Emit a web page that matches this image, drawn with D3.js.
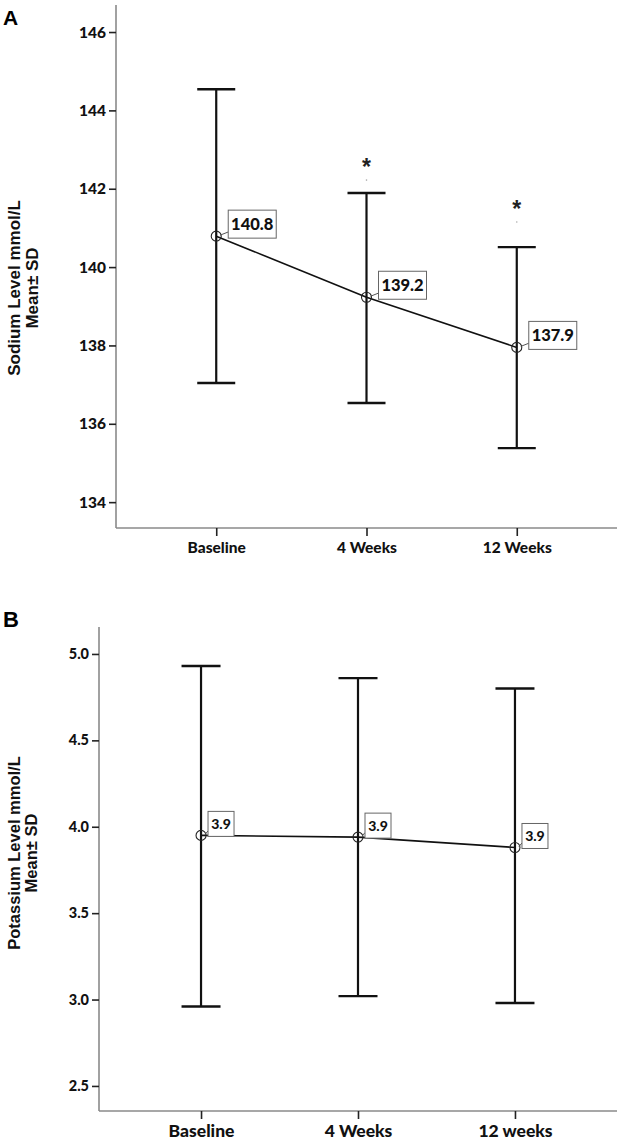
<!DOCTYPE html>
<html>
<head>
<meta charset="utf-8">
<script src="https://cdn.jsdelivr.net/npm/d3@7"></script>
<style>
  html, body { margin: 0; padding: 0; background: #fff; }
  svg { display: block; }
</style>
</head>
<body>
<svg id="chart" width="630" height="1143"></svg>
<script>
// ---------- Panel A: Sodium ----------
const sodiumCategories = ["Baseline", "4 Weeks", "12 Weeks"];
const sodiumMean = [140.79, 139.23, 137.95];
const sodiumUpper = [144.54, 141.89, 140.51];
const sodiumLower = [137.04, 136.53, 135.38];
const sodiumLabels = ["140.8", "139.2", "137.9"];
const sodiumSigDot = [null, 142.22, 141.15];
const sodiumTicks = [134, 136, 138, 140, 142, 144, 146];
const sodiumDomain = [133.34, 146.69];

// ---------- Panel B: Potassium ----------
const potassiumCategories = ["Baseline", "4 Weeks", "12 weeks"];
const potassiumMean = [3.95, 3.94, 3.88];
const potassiumUpper = [4.93, 4.86, 4.80];
const potassiumLower = [2.96, 3.02, 2.98];
const potassiumLabels = ["3.9", "3.9", "3.9"];
const potassiumTicks = [2.5, 3.0, 3.5, 4.0, 4.5, 5.0];
const potassiumDomain = [2.355, 5.156];

const svg = d3.select("#chart");

function panel(cfg) {
  const g = svg.append("g");
  const x = d3.scalePoint().domain(cfg.categories).range([cfg.left, cfg.right]).padding(cfg.padding);
  const y = d3.scaleLinear().domain(cfg.domain).range([cfg.bottom, cfg.top]);

  // panel letter
  g.append("text").attr("x", 3).attr("y", cfg.letterY)
    .attr("font-family", "Liberation Sans, Arial, sans-serif").attr("font-weight", "bold")
    .attr("font-size", cfg.letterSize).attr("fill", "#000").text(cfg.letter);

  // y axis
  const yAxis = g.append("g").attr("transform", `translate(${cfg.left},0)`)
    .call(d3.axisLeft(y).tickValues(cfg.ticks).tickSize(7).tickPadding(3).tickFormat(cfg.tickFormat));
  yAxis.select(".domain").attr("stroke", "#8a8a8a").attr("stroke-width", 1.6).attr("d", `M0,${cfg.top}V${cfg.bottom}`);
  yAxis.selectAll(".tick line").attr("stroke", "#222").attr("stroke-width", 1.6);
  yAxis.selectAll(".tick text").attr("font-family", "Lato, sans-serif").attr("font-weight", "900")
    .attr("font-size", cfg.yTickSize).attr("fill", "#111");

  // x axis
  const xAxis = g.append("g").attr("transform", `translate(0,${cfg.bottom})`)
    .call(d3.axisBottom(x).tickSize(8).tickPadding(6));
  xAxis.select(".domain").attr("stroke", "#8a8a8a").attr("stroke-width", 1.6).attr("d", `M${cfg.left},0H${cfg.right}`);
  xAxis.selectAll(".tick line").attr("stroke", "#222").attr("stroke-width", 1.6);
  xAxis.selectAll(".tick text").attr("font-family", "Lato, sans-serif").attr("font-weight", "900")
    .attr("font-size", cfg.xTickSize).attr("fill", "#111");

  // y title
  const title = g.append("text").attr("transform", `translate(${cfg.titleX},${cfg.titleY}) rotate(-90)`)
    .attr("text-anchor", "middle").attr("font-family", "Liberation Sans, Arial, sans-serif")
    .attr("font-weight", "bold").attr("font-size", cfg.titleSize).attr("fill", "#111");
  title.append("tspan").attr("x", 0).attr("dy", 0).text(cfg.title1);
  title.append("tspan").attr("x", 0).attr("dy", cfg.titleLine).text(cfg.title2);

  // error bars
  const capW = cfg.capW;
  cfg.categories.forEach((c, i) => {
    const cx = x(c);
    g.append("line").attr("x1", cx).attr("x2", cx).attr("y1", y(cfg.upper[i])).attr("y2", y(cfg.lower[i]))
      .attr("stroke", "#111").attr("stroke-width", 2.2);
    [cfg.upper[i], cfg.lower[i]].forEach(v => {
      g.append("line").attr("x1", cx - capW / 2).attr("x2", cx + capW / 2).attr("y1", y(v)).attr("y2", y(v))
        .attr("stroke", "#111").attr("stroke-width", 2.4);
    });
  });

  // mean line
  const line = d3.line().x((d, i) => x(cfg.categories[i])).y(d => y(d));
  g.append("path").attr("d", line(cfg.mean)).attr("fill", "none").attr("stroke", "#111").attr("stroke-width", 1.6);

  // markers
  cfg.categories.forEach((c, i) => {
    g.append("circle").attr("cx", x(c)).attr("cy", y(cfg.mean[i])).attr("r", cfg.markerR)
      .attr("fill", "none").attr("stroke", "#222").attr("stroke-width", 1.1);
  });

  // labels
  cfg.categories.forEach((c, i) => {
    const px = x(c), py = y(cfg.mean[i]);
    const bl = px + cfg.boxDx, bb = py + cfg.boxDy;
    g.append("line").attr("x1", px + cfg.markerR - 1).attr("y1", py - 1)
      .attr("x2", bl).attr("y2", bb - cfg.boxH * 0.22).attr("stroke", "#555").attr("stroke-width", 1);
    g.append("rect").attr("x", bl).attr("y", bb - cfg.boxH).attr("width", cfg.boxW).attr("height", cfg.boxH)
      .attr("fill", "#fff").attr("stroke", "#666").attr("stroke-width", 1);
    g.append("text").attr("x", bl + cfg.boxW / 2).attr("y", bb - cfg.boxH / 2)
      .attr("dy", "0.36em").attr("text-anchor", "middle")
      .attr("font-family", "Lato, sans-serif").attr("font-weight", "900")
      .attr("font-size", cfg.labelSize).attr("fill", "#111").text(cfg.labels[i]);
  });

  // significance markers
  if (cfg.sig) {
    cfg.categories.forEach((c, i) => {
      if (cfg.sig[i] == null) return;
      const px = x(c), py = y(cfg.sig[i]);
      g.append("circle").attr("cx", px).attr("cy", py).attr("r", 0.8).attr("fill", "#aaa");
      g.append("text").attr("x", px).attr("y", py - 22).attr("dy", "0.72em").attr("text-anchor", "middle")
        .attr("font-family", "Liberation Sans, Arial, sans-serif").attr("font-weight", "bold")
        .attr("font-size", 23).attr("fill", "#222").text("*");
    });
  }
}

panel({
  letter: "A", letterY: 25, letterSize: 21,
  categories: sodiumCategories, mean: sodiumMean, upper: sodiumUpper, lower: sodiumLower,
  labels: sodiumLabels, sig: sodiumSigDot, ticks: sodiumTicks, domain: sodiumDomain,
  tickFormat: d3.format("d"),
  left: 116, right: 617, top: 5, bottom: 528, padding: 0.667,
  yTickSize: 15.5, xTickSize: 15.5,
  titleX: 20, titleY: 288, titleSize: 17, titleLine: 18,
  title1: "Sodium Level mmol/L", title2: "Mean\u00B1 SD",
  capW: 38, markerR: 5,
  boxDx: 12, boxDy: 2, boxW: 48, boxH: 28, labelSize: 16.5
});

panel({
  letter: "B", letterY: 627, letterSize: 22,
  categories: potassiumCategories, mean: potassiumMean, upper: potassiumUpper, lower: potassiumLower,
  labels: potassiumLabels, sig: null, ticks: potassiumTicks, domain: potassiumDomain,
  tickFormat: d3.format(".1f"),
  left: 99, right: 617, top: 627, bottom: 1111, padding: 0.65,
  yTickSize: 14.5, xTickSize: 17.5,
  titleX: 20, titleY: 853, titleSize: 16.5, titleLine: 17,
  title1: "Potassium  Level mmol/L", title2: "Mean\u00B1 SD",
  capW: 39, markerR: 5,
  boxDx: 7, boxDy: 1, boxW: 26, boxH: 25, labelSize: 14
});
</script>
</body>
</html>
